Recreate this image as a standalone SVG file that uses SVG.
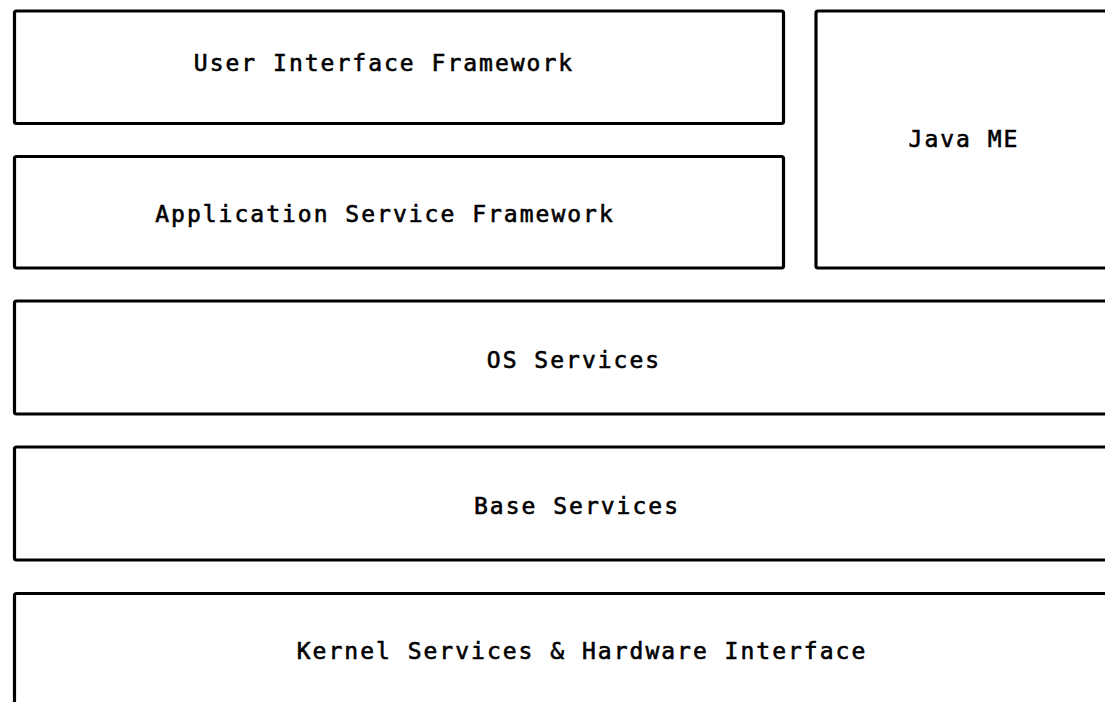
<svg xmlns="http://www.w3.org/2000/svg" width="1105" height="702" viewBox="0 0 1105 702">
  <style>
    .layer { fill: #ffffff; stroke: #000000; stroke-width: 3.2; }
    .label { font-family: "DejaVu Sans Mono", "Liberation Mono", monospace; font-size: 23px; letter-spacing: 2px; fill: #000000; stroke: #000000; stroke-width: 0.6; text-anchor: middle; }
  </style>
  <rect width="1105" height="702" fill="#ffffff"/>
  <g id="user-interface-framework">
    <rect class="layer" x="14.5" y="11" width="769" height="112.5" rx="2"/>
    <text class="label" x="384" y="71">User Interface Framework</text>
  </g>
  <g id="application-service-framework">
    <rect class="layer" x="14.5" y="156.5" width="769" height="111.5" rx="2"/>
    <text class="label" x="385" y="222">Application Service Framework</text>
  </g>
  <g id="java-me">
    <rect class="layer" x="816" y="11" width="300" height="257" rx="2"/>
    <text class="label" x="964" y="147">Java ME</text>
  </g>
  <g id="os-services">
    <rect class="layer" x="14.5" y="301" width="1100" height="113" rx="2"/>
    <text class="label" x="574" y="368">OS Services</text>
  </g>
  <g id="base-services">
    <rect class="layer" x="14.5" y="447" width="1100" height="113" rx="2"/>
    <text class="label" x="577" y="514">Base Services</text>
  </g>
  <g id="kernel-services">
    <rect class="layer" x="14.5" y="593.5" width="1100" height="130" rx="2"/>
    <text class="label" x="582" y="659">Kernel Services &amp; Hardware Interface</text>
  </g>
  <g id="connectors"/>
</svg>
